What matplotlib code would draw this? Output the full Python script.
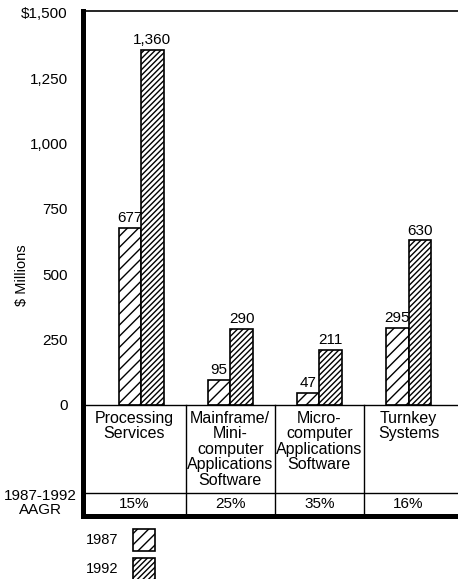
import matplotlib
matplotlib.use("Agg")
import matplotlib.pyplot as plt
from matplotlib.patches import Rectangle

plt.rcParams['font.family'] = ['Liberation Sans', 'DejaVu Sans']
plt.rcParams['hatch.linewidth'] = 1.0

# Datos
categorias = ["Processing\nServices",
              "Mainframe/\nMini-\ncomputer\nApplications\nSoftware",
              "Micro-\ncomputer\nApplications\nSoftware",
              "Turnkey\nSystems"]
v1987 = [677, 95, 47, 295]
v1992 = [1360, 290, 211, 630]
aagr = ["15%", "25%", "35%", "16%"]
yticks = [0, 250, 500, 750, 1000, 1250, 1500]
ytick_labels = ["0", "250", "500", "750", "1,000", "1,250", "$1,500"]

HATCH_87 = '///'
HATCH_92 = '//////'

W, H = 458, 579
fig = plt.figure(figsize=(W / 100, H / 100), dpi=100)
# ejes en píxeles: izquierda 83, derecha ~462 (se corta), arriba 11, abajo 516
ax = fig.add_axes([83 / W, (H - 516) / H, (462 - 83) / W, (516 - 11) / H])

escala = 392 / 1500  # px por unidad
ymin = -(516 - 405) / escala
ymax = 1500 + 2 / escala
ax.set_ylim(ymin, ymax)
ax.set_xlim(-0.652, 3.6)

x = list(range(len(categorias)))
ancho = 0.253
b1 = ax.bar([i - ancho / 2 for i in x], v1987, ancho, color='white',
            edgecolor='black', linewidth=1.2, hatch=HATCH_87)
b2 = ax.bar([i + ancho / 2 for i in x], v1992, ancho, color='white',
            edgecolor='black', linewidth=1.2, hatch=HATCH_92)

for barras, vals in ((b1, v1987), (b2, v1992)):
    for r, v in zip(barras, vals):
        ax.annotate(f"{v:,}", (r.get_x() + r.get_width() / 2, v),
                    xytext=(0, 2), textcoords='offset points',
                    ha='center', va='bottom', fontsize=11)

# ejes y marcas: etiquetas en todos, rayitas sólo en los intermedios
ax.set_yticks(yticks)
ax.set_yticklabels(ytick_labels, fontsize=11)
ax.tick_params(axis='y', which='major', length=0, pad=11)
ax.set_yticks(yticks[1:-1], minor=True)
ax.tick_params(axis='y', which='minor', direction='in', length=10, width=1.2)
ax.set_xticks([])
ax.spines['right'].set_visible(False)
ax.spines['left'].set_linewidth(3.6)
ax.spines['bottom'].set_linewidth(3.6)
ax.spines['top'].set_linewidth(1.2)

# tabla debajo del cero
fila_aagr = -(493 - 405) / escala
ax.axhline(0, color='black', lw=1.0)
ax.axhline(fila_aagr, color='black', lw=1.0)
for xd in (0.5, 1.5, 2.5):
    ax.plot([xd, xd], [ymin, 0], color='black', lw=1.0)

centros = [(ax.get_xlim()[0] + 0.5) / 2] + x[1:]
for c, cat, g in zip(centros, categorias, aagr):
    ax.annotate(cat, (c, 0), xytext=(0, -4), textcoords='offset points',
                ha='center', va='top', fontsize=11.5, linespacing=1.05)
    ax.text(c, (fila_aagr + ymin) / 2 + 3, g, ha='center', va='center',
            fontsize=11)

fig.text(22 / W, 1 - 275 / H, "$ Millions", rotation=90,
         ha='center', va='center', fontsize=10.5)
fig.text(40 / W, 1 - 503 / H, "1987-1992\nAAGR", ha='center', va='center',
         fontsize=11, linespacing=1.05)

# leyenda
for anio, yc, h in (("1987", 540, HATCH_87), ("1992", 569, HATCH_92)):
    fig.text(118 / W, 1 - yc / H, anio, ha='right', va='center', fontsize=10.5)
    fig.add_artist(Rectangle((133 / W, 1 - (yc + 11) / H), 22 / W, 22 / H,
                             transform=fig.transFigure, facecolor='white',
                             edgecolor='black', lw=1.2, hatch=h))

fig.savefig("out.png", dpi=100)
